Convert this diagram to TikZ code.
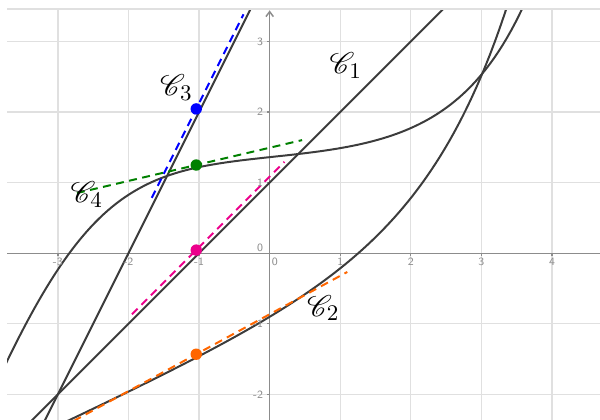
\documentclass[tikz,border=0pt]{standalone}
\usepackage{mathrsfs}
\usetikzlibrary{arrows.meta}
\definecolor{gridgray}{RGB}{224,224,224}
\definecolor{axisgray}{RGB}{140,140,140}
\definecolor{curvegray}{RGB}{60,60,60}
\definecolor{tanorange}{RGB}{255,102,0}
\definecolor{tangreen}{RGB}{0,128,0}

\begin{document}
\begin{tikzpicture}[curve/.style={draw=curvegray, line width=0.8pt},
  tangent/.style={line width=0.8pt, dash pattern=on 3.2pt off 2.2pt},
  dot/.style={circle, inner sep=0pt, minimum size=4.6pt},
  ticklabel/.style={font=\fontsize{4.5}{5}\sffamily, text=axisgray, inner sep=0.5pt},
  curvelabel/.style={font=\fontsize{12.5}{14}\selectfont, inner sep=0pt}]
  \useasboundingbox (-3.82,-2.36) rectangle (4.68,3.588);
  \begin{scope}
    \clip (-3.72,-2.36) rectangle (4.68,3.46);
    \draw[gridgray, line width=0.5pt] (-4,-3) grid (5,4);
    \draw[axisgray, line width=0.6pt] (-3.72,0) -- (4.68,0);
    \draw[axisgray, line width=0.6pt, -{Straight Barb[length=2pt,width=3pt]}] (0,-2.36) -- (0,3.44);
    \draw[axisgray, line width=0.5pt] (-3,0) -- ++(0,-0.04) (-2,0) -- ++(0,-0.04) (-1,0) -- ++(0,-0.04)
      (1,0) -- ++(0,-0.04) (2,0) -- ++(0,-0.04) (3,0) -- ++(0,-0.04) (4,0) -- ++(0,-0.04)
      (0,-2) -- ++(-0.04,0) (0,-1) -- ++(-0.04,0) (0,1) -- ++(-0.04,0) (0,2) -- ++(-0.04,0) (0,3) -- ++(-0.04,0);

    % the four curves
    \draw[curve] (-3.9,-2.9) -- (2.7,3.7);
    \draw[curve] (-3.3,-2.6) -- (-0.2,3.6);
    \draw[curve] plot[domain=-3.8:3.68, samples=120]
      (\x, {8.564+0.0595*exp(\x)+2.6*\x-1.82*ln(1+exp((\x+2.78)/0.7))});
    \draw[curve] plot[domain=-2.95:3.45, samples=100]
      (\x, {-1.0607+0.4638*\x+0.1607*exp(0.87*\x)});

    % tangents at x=-1
    \begin{scope}[shift={(-0.04,0.045)}]
      \draw[tangent, magenta] (-1.91,-0.91) -- (0.25,1.25);
      \draw[tangent, blue] (-1.63,0.74) -- (-0.33,3.34);
      \draw[tangent, tangreen] (-2.69,0.808) -- (0.5,1.558);
      \draw[tangent, tanorange] (-2.9,-2.51) -- (1.14,-0.31);
      \node[dot, fill=blue] (pblue) at (-1,2) {};
      \node[dot, fill=tangreen] (pgreen) at (-1,1.205) {};
      \node[dot, fill=magenta] (pmagenta) at (-1,0) {};
      \node[dot, fill=tanorange] (porange) at (-1,-1.475) {};
    \end{scope}
  \end{scope}
  \draw[gridgray, line width=0.5pt] (-3.72,3.46) -- (4.68,3.46);

  \node[ticklabel] (xm3) at (-3,-0.125) {-3};
  \node[ticklabel] (xm2) at (-2,-0.125) {-2};
  \node[ticklabel] (xm1) at (-1,-0.125) {-1};
  \node[ticklabel] (x0) at (0.075,-0.125) {0};
  \node[ticklabel] (x1) at (1,-0.125) {1};
  \node[ticklabel] (x2) at (2,-0.125) {2};
  \node[ticklabel] (x3) at (3,-0.125) {3};
  \node[ticklabel] (x4) at (4,-0.125) {4};
  \node[ticklabel, anchor=east] (y3) at (-0.07,3) {3};
  \node[ticklabel, anchor=east] (y2) at (-0.07,2) {2};
  \node[ticklabel, anchor=east] (y1) at (-0.07,1) {1};
  \node[ticklabel, anchor=east] (y0) at (-0.07,0.075) {0};
  \node[ticklabel, anchor=east] (ym1) at (-0.07,-1) {-1};
  \node[ticklabel, anchor=east] (ym2) at (-0.07,-2) {-2};

  \node[curvelabel] (c1) at (1.08,2.66) {$\mathscr{C}_1$};
  \node[curvelabel] (c2) at (0.76,-0.78) {$\mathscr{C}_2$};
  \node[curvelabel] (c3) at (-1.32,2.35) {$\mathscr{C}_3$};
  \node[curvelabel] (c4) at (-2.59,0.83) {$\mathscr{C}_4$};
\end{tikzpicture}
\end{document}
